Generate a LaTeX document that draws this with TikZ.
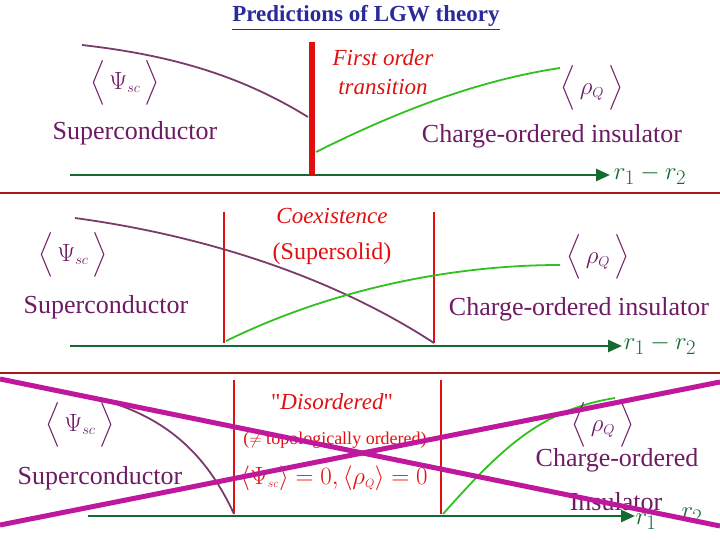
\documentclass[tikz,border=0pt]{standalone}
\usepackage{fontspec}
\setmainfont{Liberation Serif}
\usepackage{amsmath}
\usetikzlibrary{arrows.meta}
\definecolor{pur}{HTML}{6E1B64}
\definecolor{curvp}{HTML}{7A3A6A}
\definecolor{axg}{HTML}{146A30}
\definecolor{lg}{HTML}{30C020}
\definecolor{rd}{HTML}{E01010}
\definecolor{sep}{HTML}{A81818}
\definecolor{mag}{HTML}{C0189C}
\definecolor{tb}{HTML}{2A2A9A}
\newcommand{\mypsi}{$\Big\langle\,\Psi_{\scriptscriptstyle sc}\,\Big\rangle$}
\newcommand{\myrho}{$\Big\langle\,\rho_{\scriptscriptstyle Q}\,\Big\rangle$}
\tikzset{
 lab/.style={text=pur,font=\fontsize{26}{30}\selectfont,inner sep=0pt},
 brk/.style={text=pur,font=\fontsize{28}{30}\selectfont,inner sep=0pt},
 rtx/.style={text=rd,inner sep=0pt,align=center},
 psc/.style={draw=curvp,line width=1.8pt},
 gcv/.style={draw=lg,line width=1.8pt},
 ax/.style={draw=axg,line width=2.5pt,-{Triangle[length=14pt,width=12pt]}},
 rl/.style={draw=rd,line width=1.6pt},
 sp/.style={draw=sep,line width=2.5pt},
 rr/.style={text=axg,font=\fontsize{30}{32}\selectfont,inner sep=0pt},
}
\begin{document}
\begin{tikzpicture}[x=1pt,y=-1pt]
\useasboundingbox (0,0) rectangle (720,540);
\node[text=tb,font=\bfseries\fontsize{23}{26}\selectfont,inner sep=0pt] (title) at (366,18) {\underline{Predictions of LGW theory}};
% panel 1
\coordinate (a1s) at (70,175); \coordinate (a1e) at (610,175);
\draw[ax] (a1s) -- (a1e);
\coordinate (p1s) at (82,45); \coordinate (p1e) at (308,117);
\draw[psc] (p1s) .. controls (170,55) and (240,75) .. (p1e);
\coordinate (b1t) at (312,42); \coordinate (b1b) at (312,175);
\draw[draw=rd,line width=6pt] (b1t) -- (b1b);
\coordinate (g1s) at (316,152); \coordinate (g1e) at (560,68);
\draw[gcv] (g1s) .. controls (400,110) and (480,80) .. (g1e);
\node[brk] (psi1) at (125,83) {\mypsi};
\node[lab] (sc1) at (135,133) {Superconductor};
\node[rtx,font=\itshape\fontsize{23}{29}\selectfont] (fo) at (383,72) {First order\\ transition};
\node[brk] (rho1) at (592,88) {\myrho};
\node[lab] (co1) at (552,136) {Charge-ordered insulator};
\node[rr] (r1) at (650,175) {$r_1-r_2$};
\coordinate (s1a) at (0,193); \coordinate (s1b) at (720,193);
\draw[sp] (s1a) -- (s1b);
% panel 2
\coordinate (a2s) at (70,346); \coordinate (a2e) at (622,346);
\draw[ax] (a2s) -- (a2e);
\coordinate (l2a) at (224,212); \coordinate (l2b) at (224,343);
\coordinate (l2c) at (434,212); \coordinate (l2d) at (434,343);
\draw[rl] (l2a) -- (l2b); \draw[rl] (l2c) -- (l2d);
\coordinate (p2s) at (75,218); \coordinate (p2e) at (434,343);
\draw[psc] (p2s) .. controls (200,235) and (330,275) .. (p2e);
\coordinate (g2s) at (226,341); \coordinate (g2e) at (560,265);
\draw[gcv] (g2s) .. controls (330,290) and (450,265) .. (g2e);
\node[brk] (psi2) at (73,255) {\mypsi};
\node[lab] (sc2) at (106,307) {Superconductor};
\node[rtx,font=\itshape\fontsize{23}{26}\selectfont] (coex) at (332,216) {Coexistence};
\node[rtx,font=\fontsize{24}{26}\selectfont] (ssol) at (332,254) {(Supersolid)};
\node[brk] (rho2) at (598,257) {\myrho};
\node[lab] (co2) at (579,309) {Charge-ordered insulator};
\node[rr] (r2) at (660,345) {$r_1-r_2$};
\coordinate (s2a) at (0,373); \coordinate (s2b) at (720,373);
\draw[sp] (s2a) -- (s2b);
% panel 3
\coordinate (a3s) at (88,516); \coordinate (a3e) at (635,516);
\draw[ax] (a3s) -- (a3e);
\coordinate (l3a) at (234,380); \coordinate (l3b) at (234,514);
\coordinate (l3c) at (441,380); \coordinate (l3d) at (441,514);
\draw[rl] (l3a) -- (l3b); \draw[rl] (l3c) -- (l3d);
\coordinate (p3s) at (84,395); \coordinate (p3e) at (234,514);
\draw[psc] (p3s) .. controls (150,410) and (200,440) .. (p3e);
\coordinate (g3s) at (443,514); \coordinate (g3e) at (615,398);
\draw[gcv] (g3s) .. controls (500,450) and (540,410) .. (g3e);
\node[brk] (psi3) at (80,425) {\mypsi};
\node[lab] (sc3) at (100,478) {Superconductor};
\node[rtx,font=\fontsize{23}{26}\selectfont] (dis) at (332,402) {\textquotedbl\textit{Disordered}\textquotedbl};
\node[rtx,font=\fontsize{18}{20}\selectfont] (topo) at (335,440) {($\neq$ topologically ordered)};
\node[rtx,font=\fontsize{23}{26}\selectfont] (zero) at (334,478) {$\langle\Psi_{\scriptscriptstyle sc}\rangle=0,\langle\rho_{\scriptscriptstyle Q}\rangle=0$};
\node[brk] (rho3) at (603,425) {\myrho};
\node[lab] (co3) at (617,460) {Charge-ordered};
\node[lab] (ins) at (616,502) {Insulator};
\node[rr] (r31) at (646,522) {$r_1$};
\node[rr] (r32) at (692,516) {$r_2$};
% crosses
\coordinate (x1a) at (0,379); \coordinate (x1b) at (720,526);
\coordinate (x2a) at (0,525); \coordinate (x2b) at (720,382);
\draw[draw=mag,line width=5pt] (x1a) -- (x1b);
\draw[draw=mag,line width=5pt] (x2a) -- (x2b);
\end{tikzpicture}
\end{document}
